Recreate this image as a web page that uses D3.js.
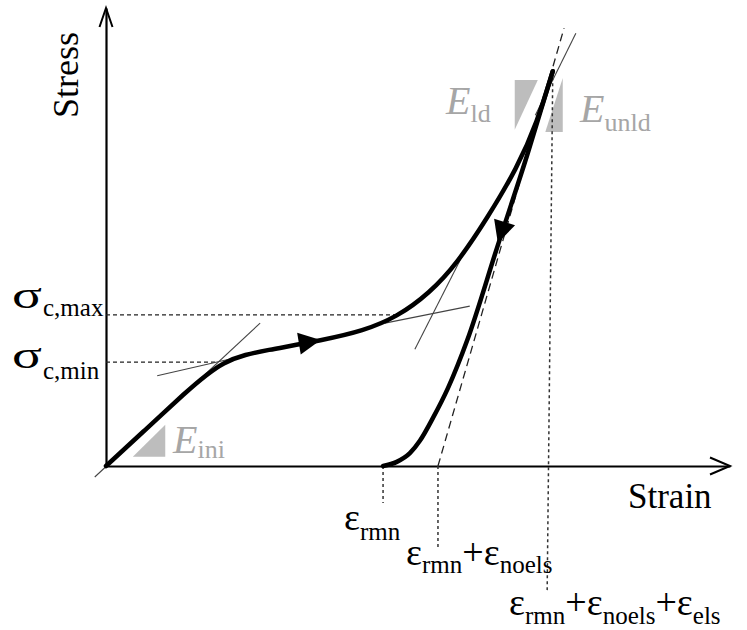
<!DOCTYPE html>
<html>
<head>
<meta charset="utf-8">
<script src="https://cdn.jsdelivr.net/npm/d3@7"></script>
<style>
  body { margin: 0; background: #fff; }
</style>
</head>
<body>
<svg id="chart" width="747" height="630"></svg>
<script>
"use strict";

var serif = 'Liberation Serif';

// Loading curve (strain, stress) in arbitrary units
var loadingCurve = [
  [0, 0], [0.63, 0.79], [1.23, 1.55], [1.88, 2.34], [2.58, 2.53], [3.48, 2.75],
  [4.12, 2.95], [4.66, 3.25], [5.19, 3.78], [5.63, 4.43], [6.11, 5.41],
  [6.59, 6.51], [6.91, 7.51], [7.16, 8.62]
];

// Unloading curve, listed from the residual strain up to the peak
var unloadingCurve = [
  [4.44, 0], [4.66, 0.09], [4.87, 0.28], [5.03, 0.55], [5.24, 1.05],
  [5.48, 1.70], [5.79, 2.75], [6.27, 4.78], [6.75, 6.79], [7.16, 8.62]
];

// Arrow heads: tip and a point behind it on the curve
var arrowHeads = [
  {tip: [3.44, 2.75], back: [2.95, 2.64]},
  {tip: [6.28, 4.87], back: [7.16, 8.62]}
];

// Thin tangent lines
var tangents = [
  [[-0.18, -0.24], [2.47, 3.12]],
  [[0.82, 1.97], [2.20, 2.40]],
  [[4.47, 3.12], [5.83, 3.49]],
  [[4.95, 2.55], [5.80, 4.83]],
  [[6.88, 7.66], [7.53, 9.45]]
];

// Characteristic values
var sigmaCmax = 3.30, sigmaCmin = 2.27;
var epsRmn = 4.44, epsRmnNoels = 5.32;
var peak = [7.16, 8.62];
var secantTop = [7.34, 9.56];

// Horizontal guides (stress levels)
var stressGuides = [
  {y: sigmaCmax, x1: 0, x2: 4.63},
  {y: sigmaCmin, x1: 0, x2: 1.79}
];

// Vertical guides [x top, y top, x bottom, y bottom]
var strainGuides = [
  [epsRmn, 0, epsRmn, -0.81],
  [epsRmnNoels, 0, epsRmnNoels, -1.83],
  [peak[0], peak[1], 7.07, -2.71]
];

// Gray modulus triangles
var modulusTriangles = [
  [[0.43, 0.20], [0.95, 0.20], [0.95, 0.90]],
  [[6.55, 8.43], [6.92, 8.43], [6.55, 7.34]],
  [[7.04, 7.29], [7.32, 7.29], [7.32, 8.47]]
];

var svg = d3.select('#chart');

var x = d3.scaleLinear().domain([0, 10]).range([106, 730]);
var y = d3.scaleLinear().domain([0, 10]).range([466, 8]);

// Axes (no ticks) with open arrow heads
svg.append('g')
  .attr('transform', `translate(0, ${y(0)})`)
  .call(d3.axisBottom(x).tickValues([]).tickSizeOuter(0))
  .select('.domain').attr('stroke', '#000').attr('stroke-width', 2.2);

svg.append('g')
  .attr('transform', `translate(${x(0)}, 0)`)
  .call(d3.axisLeft(y).tickValues([]).tickSizeOuter(0))
  .select('.domain').attr('stroke', '#000').attr('stroke-width', 2.2);

svg.append('path')
  .attr('d', `M${x(10) - 20},${y(0) - 8.5}L${x(10)},${y(0)}L${x(10) - 20},${y(0) + 8.5}`)
  .attr('fill', 'none').attr('stroke', '#000').attr('stroke-width', 2);
svg.append('path')
  .attr('d', `M${x(0) - 6.5},${y(10) + 19}L${x(0)},${y(10)}L${x(0) + 6.5},${y(10) + 19}`)
  .attr('fill', 'none').attr('stroke', '#000').attr('stroke-width', 2);

// Axis labels
svg.append('text')
  .attr('transform', 'translate(78, 75) rotate(-90)')
  .attr('text-anchor', 'middle')
  .style('font-family', serif)
  .style('font-size', '36px')
  .text('Stress');

svg.append('text')
  .attr('x', 628).attr('y', 508)
  .style('font-family', serif)
  .style('font-size', '35px')
  .text('Strain');

// Gray triangles
svg.selectAll('.tri')
  .data(modulusTriangles)
  .enter()
  .append('polygon')
    .attr('class', 'tri')
    .attr('points', d => d.map(p => x(p[0]) + ',' + y(p[1])).join(' '))
    .attr('fill', '#bdbdbd');

// Dashed guides
svg.selectAll('.hguide')
  .data(stressGuides)
  .enter()
  .append('line')
    .attr('x1', d => x(d.x1)).attr('x2', d => x(d.x2))
    .attr('y1', d => y(d.y)).attr('y2', d => y(d.y))
    .attr('stroke', '#222').attr('stroke-width', 1.3)
    .attr('stroke-dasharray', '4,3');

svg.selectAll('.vguide')
  .data(strainGuides)
  .enter()
  .append('line')
    .attr('x1', d => x(d[0])).attr('y1', d => y(d[1]))
    .attr('x2', d => x(d[2])).attr('y2', d => y(d[3]))
    .attr('stroke', '#333').attr('stroke-width', 1.5)
    .attr('stroke-dasharray', '3,3');

svg.append('line')
  .attr('x1', x(epsRmnNoels)).attr('y1', y(0))
  .attr('x2', x(secantTop[0])).attr('y2', y(secantTop[1]))
  .attr('stroke', '#222').attr('stroke-width', 1.3)
  .attr('stroke-dasharray', '8,5');

// Thin tangents
svg.selectAll('.tangent')
  .data(tangents)
  .enter()
  .append('line')
    .attr('x1', d => x(d[0][0])).attr('y1', d => y(d[0][1]))
    .attr('x2', d => x(d[1][0])).attr('y2', d => y(d[1][1]))
    .attr('stroke', '#444').attr('stroke-width', 1.1);

// Curves
function drawCurve(data, curve) {
  svg.append('path')
    .datum(data)
    .attr('d', d3.line().x(d => x(d[0])).y(d => y(d[1])).curve(curve))
    .attr('fill', 'none')
    .attr('stroke', '#000')
    .attr('stroke-width', 4.5)
    .attr('stroke-linecap', 'round')
    .attr('stroke-linejoin', 'round');
}
drawCurve(loadingCurve, d3.curveBasis);
drawCurve(unloadingCurve, d3.curveMonotoneX);

// Arrow heads
svg.selectAll('.head')
  .data(arrowHeads)
  .enter()
  .append('polygon')
    .attr('points', function(d) {
      var tx = x(d.tip[0]), ty = y(d.tip[1]);
      var a = Math.atan2(ty - y(d.back[1]), tx - x(d.back[0]));
      var len = 22, hw = 11;
      var bx = tx - len * Math.cos(a), by = ty - len * Math.sin(a);
      return [
        [tx, ty],
        [bx - hw * Math.sin(a), by + hw * Math.cos(a)],
        [bx + hw * Math.sin(a), by - hw * Math.cos(a)]
      ].map(p => p.join(',')).join(' ');
    })
    .attr('fill', '#000');

// Sub-scripted labels
function label(px, py, parts, size, subSize, shift, fill, italic) {
  var t = svg.append('text')
    .attr('x', px).attr('y', py)
    .style('font-family', serif)
    .style('font-size', size + 'px')
    .attr('fill', fill || '#000');
  var down = false;
  parts.forEach(function(p) {
    var isSub = p[1];
    var s = t.append('tspan').text(p[0]).style('font-family', serif);
    if (isSub && !down) { s.attr('dy', shift); down = true; }
    else if (!isSub && down) { s.attr('dy', -shift); down = false; }
    s.style('font-size', (isSub ? subSize : size) + 'px');
    if (!isSub && italic) s.style('font-style', 'italic');
  });
  return t;
}

// Stress level labels
[[sigmaCmax, 'c,max', -7, 1], [sigmaCmin, 'c,min', 6, 17]].forEach(function(d) {
  svg.append('text')
    .attr('x', 12).attr('y', y(d[0]) + d[2])
    .style('font-family', serif)
    .style('font-size', '38px')
    .attr('textLength', 30).attr('lengthAdjust', 'spacingAndGlyphs')
    .text('σ');
  svg.append('text')
    .attr('x', 43).attr('y', y(d[0]) + d[3])
    .style('font-family', serif)
    .style('font-size', '25px')
    .text(d[1]);
});

// Strain level labels
label(344, 530, [['ε', false], ['rmn', true]], 38, 25, 10);
label(406, 565, [['ε', false], ['rmn', true], ['+ε', false], ['noels', true]], 38, 25, 8);
label(509, 615, [['ε', false], ['rmn', true], ['+ε', false], ['noels', true], ['+ε', false], ['els', true]], 38, 25, 9);

// Moduli labels
label(173, 453, [['E', false], ['ini', true]], 40, 26, 5, '#a6a6a6', true);
label(446, 114, [['E', false], ['ld', true]], 40, 26, 8, '#a6a6a6', true);
label(580, 122, [['E', false], ['unld', true]], 40, 26, 9, '#a6a6a6', true);
</script>
</body>
</html>
